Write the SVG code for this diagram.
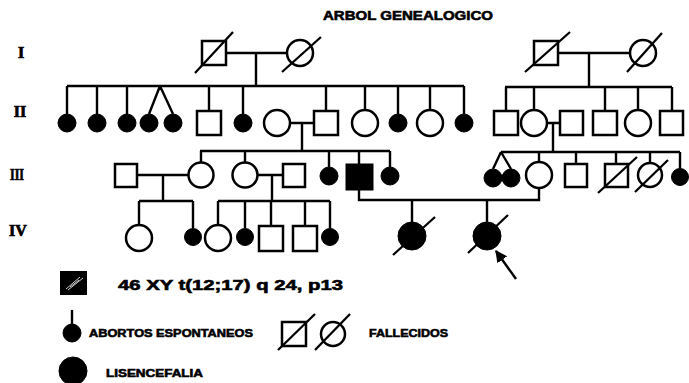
<svg xmlns="http://www.w3.org/2000/svg" width="689" height="383" viewBox="0 0 689 383">
<style>
.ln{stroke:#000;stroke-width:2.4;fill:none}
.o{fill:#fff;stroke:#000;stroke-width:2.5}
.f{fill:#000;stroke:#000;stroke-width:1}
.d{stroke:#000;stroke-width:2.3}
.t{font-family:"Liberation Sans",Arial,sans-serif;font-weight:bold;fill:#000;stroke:#000;stroke-width:0.6}
.r{font-family:"Liberation Serif","Times New Roman",serif;font-weight:bold;fill:#000;font-size:16px;stroke:#000;stroke-width:0.7}
</style>
<defs>
<marker id="ah" viewBox="0 0 10 10" refX="9" refY="5" markerWidth="5" markerHeight="5" orient="auto"><path d="M0,0 L10,5 L0,10 z" fill="#000"/></marker>
</defs>
<rect width="689" height="383" fill="#fff"/>
<text class="t" x="323" y="20" font-size="13" textLength="170" lengthAdjust="spacingAndGlyphs">ARBOL  GENEALOGICO</text>
<g id="labels">
<text class="r" x="21" y="58" text-anchor="middle">I</text>
<text class="r" x="20" y="117" text-anchor="middle">II</text>
<text class="r" x="17" y="180" text-anchor="middle" textLength="14" lengthAdjust="spacingAndGlyphs">III</text>
<text class="r" x="18" y="236" text-anchor="middle">IV</text>
</g>
<g id="connectors" class="ln">
<path d="M226,53 H287 M256,53 V86"/>
<path d="M67,86 H464 M67,86 V114 M97,86 V114 M127,86 V114 M160,86 L149,114 M160,86 L173,114 M209,86 V111 M243,86 V114 M326,86 V111 M365,86 V110 M398,86 V114 M430,86 V110 M464,86 V114"/>
<path d="M558,53 H630 M589,53 V87"/>
<path d="M505,87 H672 M506,87 V111 M534,87 V110 M605,87 V111 M638,87 V110 M672,87 V111"/>
<path d="M290,123 H314 M302,123 V151"/>
<path d="M547,123 H560 M553,123 V152"/>
<path d="M200,151 H390 M201,151 V162 M245,151 V162 M329,151 V167 M359,151 V164 M390,151 V167"/>
<path d="M501,152 H680 M501,152 L493,169 M501,152 L511,169 M539,152 V162 M576,152 V164 M616,152 V164 M650,152 V163 M680,152 V168"/>
<path d="M137,175 H188 M163,175 V201"/>
<path d="M258,175 H283 M272,175 V201"/>
<path d="M139,201 H193 M139,201 V225 M193,201 V228"/>
<path d="M218,201 H330 M218,201 V225 M245,201 V228 M271,201 V226 M305,201 V226 M330,201 V228"/>
<path d="M359,190 V200 H539 V188 M412,200 V222 M487,200 V222"/>
<line x1="516" y1="279" x2="496" y2="251" marker-end="url(#ah)"/>
</g>
<g id="I-1"><rect class="o" x="202" y="41" width="24" height="24"/><line class="d" x1="195" y1="73" x2="233" y2="32"/></g>
<g id="I-2"><circle class="o" cx="300" cy="53" r="13"/><line class="d" x1="282" y1="72" x2="321" y2="37"/></g>
<g id="I-3"><rect class="o" x="534" y="41" width="24" height="24"/><line class="d" x1="525" y1="72" x2="570" y2="32"/></g>
<g id="I-4"><circle class="o" cx="643" cy="53" r="13"/><line class="d" x1="627" y1="72" x2="662" y2="33"/></g>
<g id="II-1"><circle class="f" cx="67" cy="123" r="9"/></g>
<g id="II-2"><circle class="f" cx="97" cy="123" r="9"/></g>
<g id="II-3"><circle class="f" cx="127" cy="123" r="9"/></g>
<g id="II-4"><circle class="f" cx="149" cy="123" r="9"/></g>
<g id="II-5"><circle class="f" cx="173" cy="123" r="9"/></g>
<g id="II-6"><rect class="o" x="197" y="111" width="24" height="24"/></g>
<g id="II-7"><circle class="f" cx="243" cy="123" r="9"/></g>
<g id="II-8"><circle class="o" cx="277" cy="123" r="13"/></g>
<g id="II-9"><rect class="o" x="314" y="111" width="24" height="24"/></g>
<g id="II-10"><circle class="o" cx="365" cy="123" r="13"/></g>
<g id="II-11"><circle class="f" cx="398" cy="123" r="9"/></g>
<g id="II-12"><circle class="o" cx="430" cy="123" r="13"/></g>
<g id="II-13"><circle class="f" cx="464" cy="123" r="9"/></g>
<g id="II-14"><rect class="o" x="494" y="111" width="24" height="24"/></g>
<g id="II-15"><circle class="o" cx="534" cy="123" r="13"/></g>
<g id="II-16"><rect class="o" x="560" y="111" width="23" height="24"/></g>
<g id="II-17"><rect class="o" x="593" y="111" width="24" height="24"/></g>
<g id="II-18"><circle class="o" cx="638" cy="123" r="13"/></g>
<g id="II-19"><rect class="o" x="660" y="111" width="23" height="24"/></g>
<g id="III-1"><rect class="o" x="115" y="164" width="22" height="23"/></g>
<g id="III-2"><circle class="o" cx="201" cy="175" r="12.5"/></g>
<g id="III-3"><circle class="o" cx="245" cy="175" r="12.5"/></g>
<g id="III-4"><rect class="o" x="283" y="164" width="22" height="23"/></g>
<g id="III-5"><circle class="f" cx="329" cy="176" r="9"/></g>
<g id="III-6"><rect class="f" x="346" y="164" width="27" height="26" stroke-width="2"/></g>
<g id="III-7"><circle class="f" cx="390" cy="176" r="9"/></g>
<g id="III-8"><circle class="f" cx="493" cy="178" r="9"/></g>
<g id="III-9"><circle class="f" cx="511" cy="178" r="9"/></g>
<g id="III-10"><circle class="o" cx="539" cy="175" r="13"/></g>
<g id="III-11"><rect class="o" x="565" y="164" width="22" height="23"/></g>
<g id="III-12"><rect class="o" x="605" y="164" width="23" height="23"/><line class="d" x1="598" y1="193" x2="637" y2="157"/></g>
<g id="III-13"><circle class="o" cx="650" cy="175" r="12"/><line class="d" x1="635" y1="192" x2="668" y2="160"/></g>
<g id="III-14"><circle class="f" cx="680" cy="177" r="8.5"/></g>
<g id="IV-1"><circle class="o" cx="139" cy="238" r="13"/></g>
<g id="IV-2"><circle class="f" cx="193" cy="237" r="8.5"/></g>
<g id="IV-3"><circle class="o" cx="218" cy="238" r="13"/></g>
<g id="IV-4"><circle class="f" cx="245" cy="237" r="8.5"/></g>
<g id="IV-5"><rect class="o" x="259" y="226" width="24" height="25"/></g>
<g id="IV-6"><rect class="o" x="293" y="226" width="24" height="25"/></g>
<g id="IV-7"><circle class="f" cx="330" cy="237" r="8.5"/></g>
<g id="IV-8"><circle class="f" cx="412" cy="236" r="14"/><line class="d" x1="393" y1="255" x2="435" y2="217"/></g>
<g id="IV-9"><circle class="f" cx="487" cy="236" r="14"/><line class="d" x1="468" y1="253" x2="508" y2="215"/></g>
<g id="legend">
<rect x="60" y="271" width="27" height="24" fill="#000"/>
<path d="M66,289 L80,277 M68,290 L83,278 M70,287 L79,280" stroke="#fff" stroke-width="0.8"/>
<text class="t" x="118" y="290" font-size="15" textLength="225" lengthAdjust="spacingAndGlyphs">46 XY t(12;17) q 24, p13</text>
<line class="ln" x1="72" y1="310" x2="72" y2="325"/>
<circle class="f" cx="72" cy="333" r="9"/>
<text class="t" x="89" y="337" font-size="11.5" textLength="164" lengthAdjust="spacingAndGlyphs">ABORTOS  ESPONTANEOS</text>
<rect class="o" x="282" y="322" width="24" height="24"/><line class="d" x1="278" y1="350" x2="315" y2="314"/>
<circle class="o" cx="333" cy="334" r="12"/><line class="d" x1="315" y1="350" x2="350" y2="314"/>
<text class="t" x="369" y="337" font-size="11.5" textLength="79" lengthAdjust="spacingAndGlyphs">FALLECIDOS</text>
<circle class="f" cx="73" cy="371" r="14"/>
<text class="t" x="106" y="377" font-size="11.5" textLength="97" lengthAdjust="spacingAndGlyphs">LISENCEFALIA</text>
</g>
</svg>
